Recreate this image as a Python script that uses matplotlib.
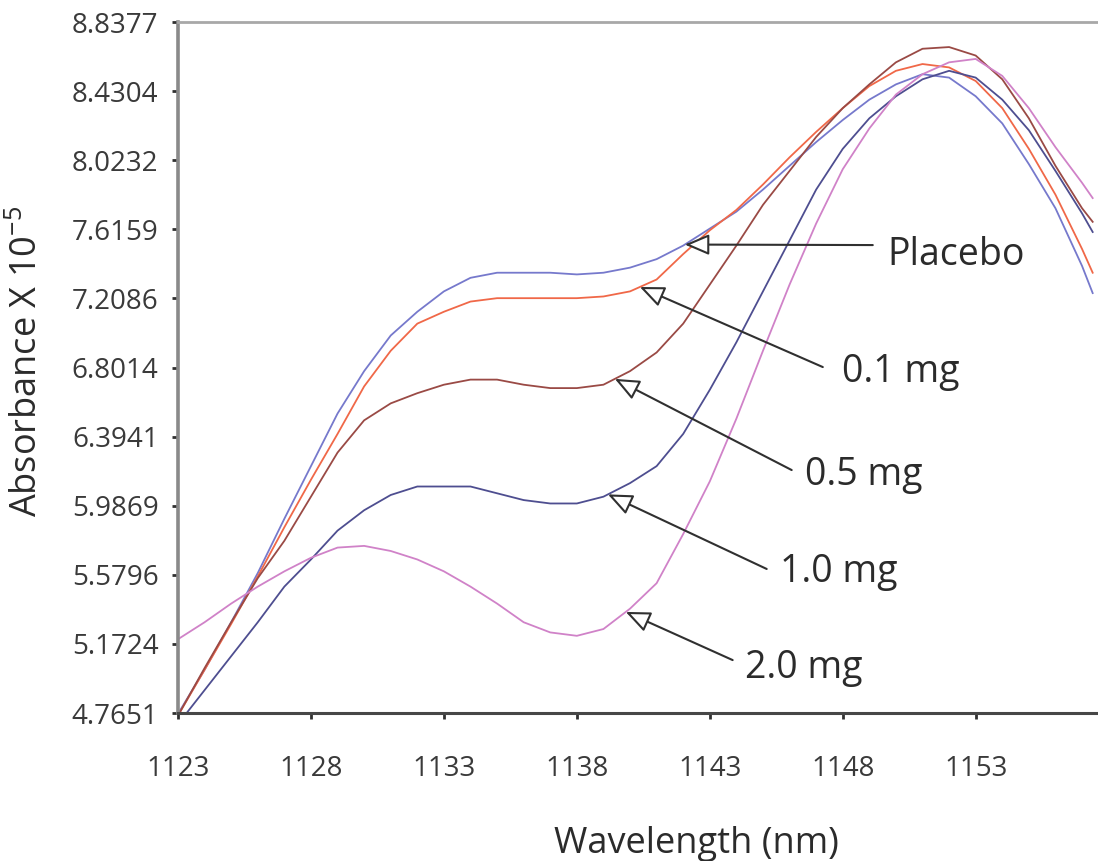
import matplotlib.pyplot as plt
import numpy as np

plt.rcParams['font.family'] = ['Open Sans', 'DejaVu Sans']
plt.rcParams['mathtext.fontset'] = 'custom'
plt.rcParams['mathtext.rm'] = 'Open Sans'

# длины волн (нм)
wavelength = [1123, 1124, 1125, 1126, 1127, 1128, 1129, 1130, 1131, 1132,
              1133, 1134, 1135, 1136, 1137, 1138, 1139, 1140, 1141, 1142,
              1143, 1144, 1145, 1146, 1147, 1148, 1149, 1150, 1151, 1152,
              1153, 1154, 1155, 1156, 1157, 1157.4]

placebo = [4.76, 5.02, 5.30, 5.59, 5.91, 6.22, 6.53, 6.78, 6.99, 7.13,
           7.25, 7.33, 7.36, 7.36, 7.36, 7.35, 7.36, 7.39, 7.44, 7.52,
           7.62, 7.72, 7.85, 7.99, 8.13, 8.26, 8.38, 8.47, 8.53, 8.51,
           8.40, 8.24, 8.00, 7.74, 7.40, 7.24]
dose_01 = [4.75, 5.02, 5.29, 5.57, 5.86, 6.14, 6.41, 6.69, 6.90, 7.06,
           7.13, 7.19, 7.21, 7.21, 7.21, 7.21, 7.22, 7.25, 7.32, 7.47,
           7.61, 7.73, 7.88, 8.04, 8.19, 8.33, 8.46, 8.55, 8.59, 8.57,
           8.49, 8.33, 8.09, 7.82, 7.50, 7.36]
dose_05 = [4.75, 5.03, 5.30, 5.56, 5.78, 6.04, 6.30, 6.49, 6.59, 6.65,
           6.70, 6.73, 6.73, 6.70, 6.68, 6.68, 6.70, 6.78, 6.89, 7.06,
           7.29, 7.52, 7.76, 7.96, 8.16, 8.33, 8.47, 8.60, 8.68, 8.69,
           8.64, 8.50, 8.27, 7.99, 7.74, 7.66]
dose_10 = [4.70, 4.90, 5.10, 5.30, 5.51, 5.67, 5.84, 5.96, 6.05, 6.10,
           6.10, 6.10, 6.06, 6.02, 6.00, 6.00, 6.04, 6.12, 6.22, 6.41,
           6.67, 6.95, 7.25, 7.55, 7.85, 8.09, 8.27, 8.40, 8.50, 8.55,
           8.51, 8.38, 8.20, 7.96, 7.71, 7.60]
dose_20 = [5.20, 5.30, 5.41, 5.51, 5.60, 5.68, 5.74, 5.75, 5.72, 5.67,
           5.60, 5.51, 5.41, 5.30, 5.24, 5.22, 5.26, 5.38, 5.53, 5.82,
           6.13, 6.50, 6.90, 7.29, 7.65, 7.97, 8.21, 8.41, 8.53, 8.60,
           8.62, 8.52, 8.33, 8.10, 7.89, 7.80]

series_labels = ['Placebo', '0.1 mg', '0.5 mg', '1.0 mg', '2.0 mg']
series_values = [placebo, dose_01, dose_05, dose_10, dose_20]
series_colors = ['#7679cc', '#f06848', '#9a4a45', '#4e4e90', '#d082c8']

x_ticks = [1123, 1128, 1133, 1138, 1143, 1148, 1153]
y_tick_labels = ['4.7651', '5.1724', '5.5796', '5.9869', '6.3941', '6.8014',
                 '7.2086', '7.6159', '8.0232', '8.4304', '8.8377']

# куда указывают стрелки (длина волны на кривой) и где стоят подписи
arrow_tip_wl = [1142.06, 1140.37, 1139.43, 1139.17, 1139.84]
arrow_tail = [(1149.13, 7.523), (1147.25, 6.804), (1146.08, 6.197),
              (1145.14, 5.614), (1143.86, 5.077)]
label_pos = [(1149.69, 7.405), (1147.96, 6.716), (1146.57, 6.109),
             (1145.63, 5.537), (1144.32, 4.971)]

fig = plt.figure(figsize=(10.98, 8.61), dpi=100)
ax = fig.add_axes([178 / 1098, 1 - 713 / 861, 1 - 178 / 1098, (713 - 22) / 861])

for vals, color in zip(series_values, series_colors):
    ax.plot(wavelength, vals, color=color, linewidth=1.3)

# подписи со стрелками
for name, vals, tip_wl, tail, pos in zip(series_labels, series_values,
                                          arrow_tip_wl, arrow_tail, label_pos):
    tip = (tip_wl, np.interp(tip_wl, wavelength, vals))
    ax.annotate('', xy=tip, xytext=tail,
                arrowprops=dict(arrowstyle='-|>,head_length=0.75,head_width=0.32',
                                mutation_scale=20, fc='white', ec='#303030',
                                lw=1.5, shrinkA=0, shrinkB=0))
    ax.text(pos[0], pos[1], name, fontsize=27, color='#2b2b2b',
            ha='left', va='baseline')

ax.set_xlim(1123, 1157.6)
y_ticks = [float(t) for t in y_tick_labels]
ax.set_ylim(y_ticks[0], y_ticks[-1])
ax.set_xticks(x_ticks)
ax.set_xticklabels([str(t) for t in x_ticks])
ax.set_yticks(y_ticks)
ax.set_yticklabels(y_tick_labels)

ax.tick_params(axis='y', direction='out', length=4, width=2, color='#303030',
               labelsize=20, labelcolor='#3a3a3a', pad=10)
ax.tick_params(axis='x', direction='out', length=4, width=2, color='#303030',
               labelsize=20, labelcolor='#3a3a3a', pad=26)

ax.spines['right'].set_visible(False)
ax.spines['top'].set_color('#a8a8a8')
ax.spines['top'].set_linewidth(2)
ax.spines['left'].set_color('#8a8a8a')
ax.spines['left'].set_linewidth(2.6)
ax.spines['bottom'].set_color('#474747')
ax.spines['bottom'].set_linewidth(2.2)

fig.text(696 / 1098, 1 - 853 / 861, 'Wavelength (nm)', fontsize=26,
         color='#2b2b2b', ha='center', va='baseline')
fig.text(28 / 1098, 1 - 361 / 861, r'Absorbance X 10$^{\mathregular{-5}}$',
         fontsize=26, color='#2b2b2b', ha='center', va='center', rotation=90)

fig.savefig('out.png', dpi=100)
